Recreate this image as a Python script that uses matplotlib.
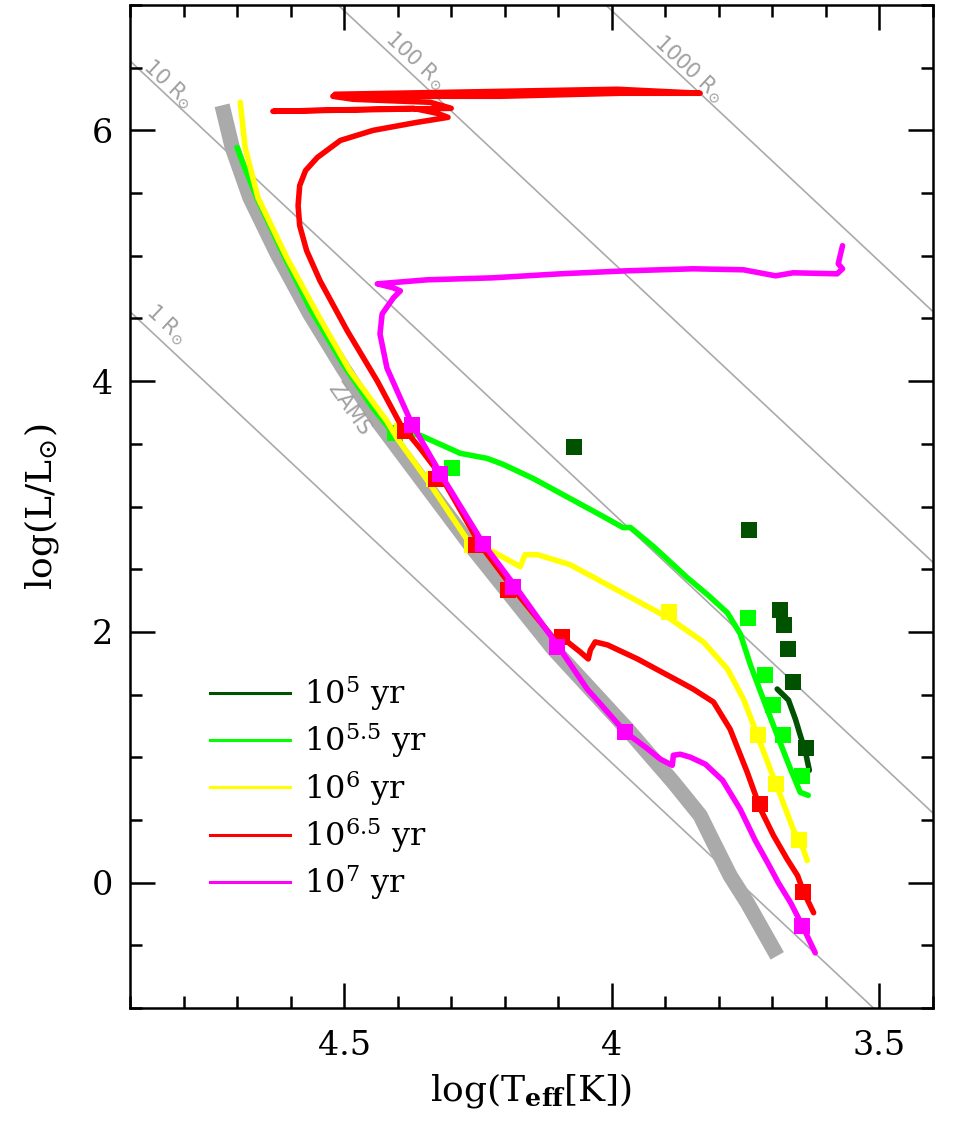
import numpy as np
import matplotlib
matplotlib.use('Agg')
import matplotlib.pyplot as plt
from matplotlib.ticker import MultipleLocator

plt.rcParams['font.family'] = ['DejaVu Serif']
plt.rcParams['mathtext.fontset'] = 'dejavuserif'

# ZAMS
zams_t = [4.728, 4.709, 4.676, 4.625, 4.564, 4.502, 4.433, 4.259, 4.109, 3.971,
          3.885, 3.835, 3.810, 3.779, 3.747, 3.691]
zams_l = [6.2, 5.864, 5.464, 5.016, 4.536, 4.104, 3.656, 2.664, 1.864, 1.224,
          0.8, 0.536, 0.32, 0.056, -0.16, -0.584]

# 10^5 yr
iso5_t = [3.691, 3.670, 3.657, 3.648, 3.638, 3.635, 3.631]
iso5_l = [1.544, 1.456, 1.304, 1.176, 1.04, 0.976, 0.896]
sq5_t = [4.070, 3.743, 3.685, 3.679, 3.670, 3.661, 3.638]
sq5_l = [3.472, 2.816, 2.176, 2.056, 1.864, 1.600, 1.072]

# 10^5.5 yr
iso55_t = [4.700, 4.691, 4.663, 4.614, 4.564, 4.502, 4.446, 4.414, 4.386, 4.358,
           4.283, 4.233, 4.203, 4.147, 4.109, 4.016, 3.979, 3.965, 3.922, 3.859,
           3.821, 3.784, 3.760, 3.741, 3.717, 3.691, 3.666, 3.648, 3.633]
iso55_l = [5.864, 5.76, 5.464, 5.016, 4.584, 4.136, 3.784, 3.616, 3.584, 3.568,
           3.424, 3.384, 3.336, 3.224, 3.136, 2.92, 2.832, 2.832, 2.68, 2.432,
           2.296, 2.152, 1.984, 1.736, 1.464, 1.176, 0.904, 0.72, 0.696]
sq55_t = [4.405, 4.298, 3.745, 3.713, 3.698, 3.681, 3.644]
sq55_l = [3.584, 3.304, 2.112, 1.656, 1.416, 1.176, 0.848]

# 10^6 yr
iso6_t = [4.694, 4.685, 4.661, 4.607, 4.550, 4.489, 4.420, 4.401, 4.339, 4.264,
          4.222, 4.171, 4.162, 4.139, 4.078, 3.984, 3.891, 3.829, 3.784, 3.754,
          3.728, 3.704, 3.685, 3.661, 3.642, 3.635]
iso6_l = [6.224, 5.864, 5.464, 4.984, 4.536, 4.08, 3.68, 3.544, 3.176, 2.696,
          2.64, 2.52, 2.616, 2.616, 2.536, 2.32, 2.104, 1.92, 1.704, 1.464,
          1.176, 0.904, 0.696, 0.424, 0.264, 0.176]
sq6_t = [4.392, 4.332, 4.261, 3.894, 3.726, 3.694, 3.651]
sq6_l = [3.6, 3.216, 2.696, 2.16, 1.176, 0.784, 0.336]

# 10^6.5 yr
iso65_t = [3.623, 3.642, 3.653, 3.672, 3.698, 3.722, 3.747, 3.779, 3.810, 3.848,
           3.872, 3.952, 4.008, 4.031, 4.040, 4.044, 4.059, 4.078, 4.093, 4.109,
           4.184, 4.246, 4.321, 4.358, 4.395, 4.438, 4.494, 4.545, 4.570, 4.583,
           4.586, 4.583, 4.572, 4.550, 4.507, 4.446, 4.364, 4.306, 4.326, 4.371,
           4.633, 4.300, 4.339, 4.483, 4.521, 4.208, 3.984, 3.835, 3.990, 4.302,
           4.517]
iso65_l = [-0.24, -0.072, 0.056, 0.184, 0.376, 0.584, 0.88, 1.224, 1.44, 1.544,
           1.6, 1.784, 1.896, 1.92, 1.856, 1.784, 1.84, 1.904, 1.96, 1.95,
           2.344, 2.696, 3.256, 3.464, 3.656, 4.0, 4.4, 4.8, 5.04, 5.24,
           5.40, 5.56, 5.68, 5.784, 5.92, 6.0, 6.064, 6.104, 6.136, 6.176,
           6.152, 6.176, 6.224, 6.248, 6.272, 6.272, 6.296, 6.296, 6.328, 6.304,
           6.288]
sq65_t = [4.386, 4.328, 4.253, 4.193, 4.093, 3.724, 3.642]
sq65_l = [3.6, 3.216, 2.696, 2.336, 1.96, 0.624, -0.072]

# 10^7 yr
iso7_t = [3.620, 3.644, 3.666, 3.689, 3.707, 3.732, 3.760, 3.793, 3.825, 3.853,
          3.872, 3.885, 3.887, 3.909, 3.937, 3.975, 4.021, 4.046, 4.102, 4.177,
          4.240, 4.317, 4.358, 4.373, 4.395, 4.420, 4.433, 4.429, 4.408, 4.395,
          4.408, 4.438, 4.345, 4.222, 4.096, 3.971, 3.848, 3.754, 3.694, 3.661,
          3.579, 3.569, 3.577, 3.569]
iso7_l = [-0.56, -0.344, -0.16, 0.0, 0.144, 0.336, 0.584, 0.816, 0.944, 1.0,
          1.024, 1.016, 0.936, 0.984, 1.08, 1.2, 1.424, 1.544, 1.896, 2.344,
          2.704, 3.24, 3.544, 3.656, 3.864, 4.104, 4.376, 4.536, 4.664, 4.72,
          4.744, 4.776, 4.808, 4.824, 4.856, 4.88, 4.896, 4.888, 4.84, 4.864,
          4.856, 4.896, 4.936, 5.08]
sq7_t = [4.373, 4.321, 4.240, 4.184, 4.102, 3.975, 3.644]
sq7_l = [3.648, 3.256, 2.704, 2.36, 1.88, 1.2, -0.344]

labels = [r'10$^{5}$ yr', r'10$^{5.5}$ yr', r'10$^{6}$ yr', r'10$^{6.5}$ yr', r'10$^{7}$ yr']
colors = ['#005200', '#00ff00', '#ffff00', '#ff0000', '#ff00ff']

# radius lines
radii = [1, 10, 100, 1000]
radius_text = [r'1 R$_{\odot}$', r'10 R$_{\odot}$', r'100 R$_{\odot}$', r'1000 R$_{\odot}$']
radius_text_t = [4.832, 4.828, 4.367, 3.856]
radius_text_l = [4.45, 6.37, 6.554, 6.49]
log_tsun = np.log10(5772)

fig = plt.figure(figsize=(9.76, 11.25), dpi=100)
ax = fig.add_axes([130/976, 117/1125, 803/976, 1003/1125])

tt = np.array([5.0, 3.3])
for r in radii:
    ax.plot(tt, 2*np.log10(r) + 4*(tt - log_tsun), color='#aaaaaa', lw=1.2, zorder=1)
for s, x, y in zip(radius_text, radius_text_t, radius_text_l):
    ax.text(x, y, s, rotation=-43, ha='center', va='center', color='#a0a0a0',
            fontsize=15, family='DejaVu Sans', zorder=1)

ax.plot(zams_t, zams_l, color='#aaaaaa', lw=11, solid_capstyle='butt', zorder=2)
ax.text(4.49, 3.78, 'ZAMS', rotation=-55, ha='center', va='center', color='#a0a0a0',
        fontsize=15, family='DejaVu Sans', zorder=2)

tracks = [(iso5_t, iso5_l, sq5_t, sq5_l), (iso55_t, iso55_l, sq55_t, sq55_l),
          (iso6_t, iso6_l, sq6_t, sq6_l), (iso65_t, iso65_l, sq65_t, sq65_l),
          (iso7_t, iso7_l, sq7_t, sq7_l)]
for i, (lt, ll, st, sl) in enumerate(tracks):
    ax.plot(lt, ll, color=colors[i], lw=4, solid_joinstyle='round',
            solid_capstyle='round', zorder=3+i)
    ax.plot(st, sl, 's', color=colors[i], ms=12, mew=0, zorder=3+i)

# legend
handles = [plt.Line2D([], [], color=c, lw=2.2) for c in colors]
ax.legend(handles, labels, loc='upper left', bbox_to_anchor=(0.0996, 0.333),
          frameon=False, fontsize=23, handlelength=2.5, handletextpad=0.45,
          labelspacing=0.26, borderpad=0, borderaxespad=0)

ax.set_xlim(4.9, 3.4)
ax.set_ylim(-1, 7)
ax.set_xticks([4.5, 4.0, 3.5])
ax.set_xticklabels(['4.5', '4', '3.5'])
ax.set_yticks([0, 2, 4, 6])
ax.set_yticklabels(['0', '2', '4', '6'])
ax.xaxis.set_minor_locator(MultipleLocator(0.1))
ax.yaxis.set_minor_locator(MultipleLocator(0.5))
ax.tick_params(which='both', direction='in', top=True, right=True, width=1.8)
ax.tick_params(which='major', length=18, labelsize=24)
ax.tick_params(which='minor', length=8.6)
ax.tick_params(axis='x', which='major', pad=16)
ax.tick_params(axis='y', which='major', pad=12)
for sp in ax.spines.values():
    sp.set_linewidth(1.8)

ax.set_xlabel(r'log(T$_{\mathbf{eff}}$[K])', fontsize=26, labelpad=6)
ax.set_ylabel(r'log(L/L$_{\odot}$)', fontsize=26, labelpad=22)

fig.savefig('out.png', dpi=100)
